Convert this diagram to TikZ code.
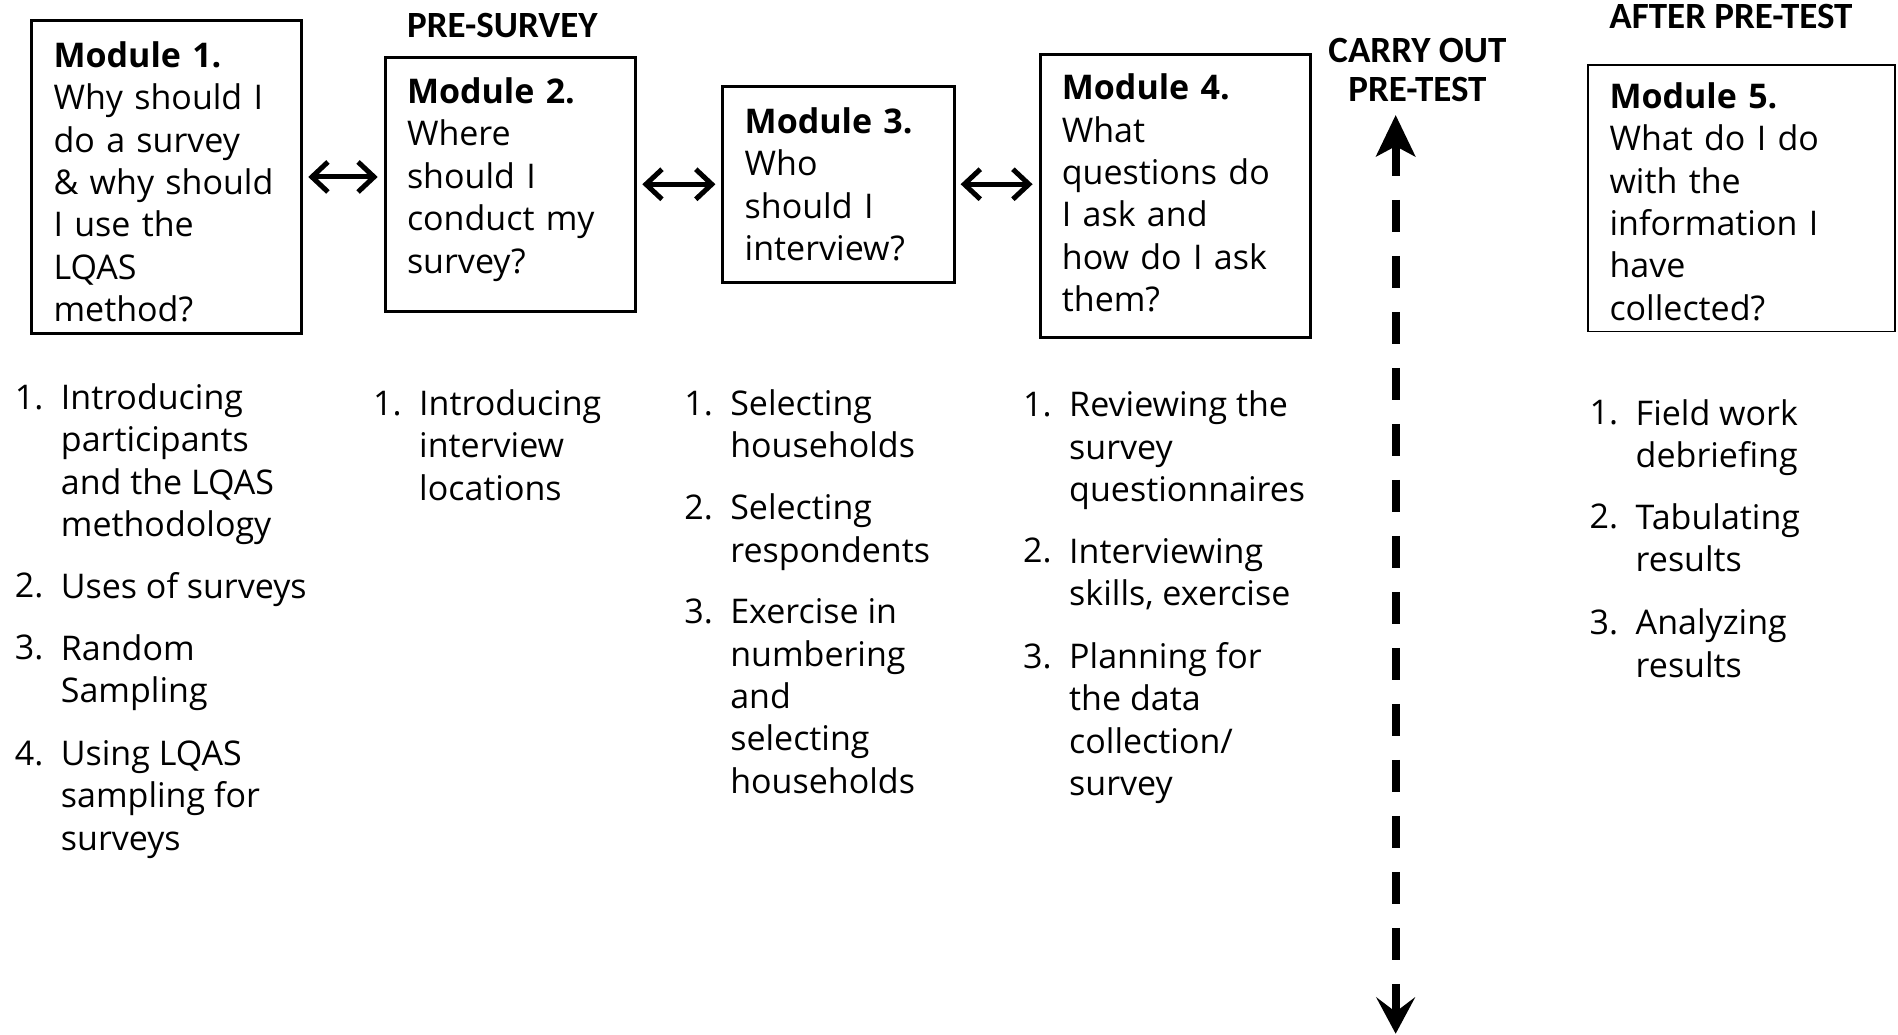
\documentclass[tikz,border=0pt]{standalone}
\usepackage{fontspec}
\setmainfont{Open Sans}
\newfontfamily\hdrfont{Carlito}
\usetikzlibrary{arrows.meta}
\newcommand{\bodyfont}{\fontsize{17}{21.18}\selectfont}
\newcommand{\firststrut}{\rule{0pt}{14pt}}
\tikzset{
  modbox/.style={draw, line width=1.5pt, anchor=north west, inner xsep=10.9pt,
    inner ysep=0pt, align=left, font=\bodyfont},
  modthin/.style={modbox, line width=0.8pt},
  hdr/.style={font=\hdrfont\bfseries\fontsize{18.5}{19.4}\selectfont, align=center, inner sep=0pt},
  lnum/.style={anchor=base west, inner sep=0pt, font=\bodyfont},
  ltxt/.style={anchor=north west, inner sep=0pt, align=left, font=\bodyfont},
  dblarrow/.style={line width=2.5pt,
    {Straight Barb[length=8pt,width=15pt]}-{Straight Barb[length=8pt,width=15pt]},
    shorten <=2.5pt, shorten >=3pt},
  testarrow/.style={line width=4pt, dash pattern=on 16pt off 12pt,
    {Stealth[length=20.6pt,width=19.4pt,inset=5pt]}-{Stealth[length=18.2pt,width=19.4pt,inset=7.3pt]}}
}
\newcommand{\litem}[5]{%
  \node[lnum] (#1n) at (#2,#3) {#4};
  \node[ltxt] (#1t) at (#2+38,#3-23.13) {\firststrut#5};}
\begin{document}
\begin{tikzpicture}[x=0.60523pt, y=-0.60523pt]
\useasboundingbox (0,0) rectangle (1568,855);

% module boxes
\node[modbox, minimum width=135pt, minimum height=156.1pt, text width=113.2pt] (m1) at (25,16)
  {\rule{0pt}{17.7pt}\textbf{Module 1.}\\Why should I\\do a survey\\\& why should\\I use the\\LQAS\\method?};
\node[modbox, minimum width=125.3pt, minimum height=127.1pt, text width=103.5pt] (m2) at (317,46)
  {\textbf{Module 2.}\\Where\\should I\\conduct my\\survey?\rule[-8.9pt]{0pt}{8.9pt}};
\node[modbox, minimum width=115.6pt, minimum height=98pt, text width=93.8pt] (m3) at (596,70)
  {\textbf{Module 3.}\\Who\\should I\\interview?};
\node[modbox, minimum width=135pt, minimum height=141.6pt, text width=113.2pt] (m4) at (858,44)
  {\textbf{Module 4.}\\What\\questions do\\I ask and\\how do I ask\\them?\rule[-3.7pt]{0pt}{3.7pt}};
\node[modthin, minimum width=153.7pt, minimum height=133.2pt, text width=131.9pt] (m5) at (1311,53)
  {\rule{0pt}{16.5pt}\textbf{Module 5.}\\What do I do\\with the\\information I\\have\\collected?};

% headers
\node[hdr] (hpre) at (415,21) {PRE-SURVEY};
\node[hdr] (hcarry) at (1171,58) {CARRY OUT\\PRE-TEST};
\node[hdr] (hafter) at (1430,14) {AFTER PRE-TEST};

% connectors between modules
\draw[dblarrow] (m1.east) -- (m1.east -| m2.west);
\draw[dblarrow] (m2.east) -- (m2.east -| m3.west);
\draw[dblarrow] (m3.east) -- (m3.east -| m4.west);

% pre-test dashed arrow
\coordinate (ptop) at (1153,95);
\coordinate (pbot) at (1153,854);
\draw[testarrow] (ptop) -- (pbot);

% column 1
\litem{a1}{12}{338}{1.}{Introducing\\participants\\and the LQAS\\methodology}
\litem{a2}{12}{494}{2.}{Uses of surveys}
\litem{a3}{12}{545}{3.}{Random\\Sampling}
\litem{a4}{12}{632}{4.}{Using LQAS\\sampling for\\surveys}
% column 2
\litem{b1}{308}{343}{1.}{Introducing\\interview\\locations}
% column 3
\litem{c1}{565}{343}{1.}{Selecting\\households}
\litem{c2}{565}{429}{2.}{Selecting\\respondents}
\litem{c3}{565}{515}{3.}{Exercise in\\numbering\\and\\selecting\\households}
% column 4
\litem{d1}{845}{344}{1.}{Reviewing the\\survey\\questionnaires}
\litem{d2}{845}{465}{2.}{Interviewing\\skills, exercise}
\litem{d3}{845}{552}{3.}{Planning for\\the data\\collection/\\survey}
% column 5
\litem{e1}{1313}{351}{1.}{Field work\\debriefing}
\litem{e2}{1313}{437}{2.}{Tabulating\\results}
\litem{e3}{1313}{524}{3.}{Analyzing\\results}
\end{tikzpicture}
\end{document}
